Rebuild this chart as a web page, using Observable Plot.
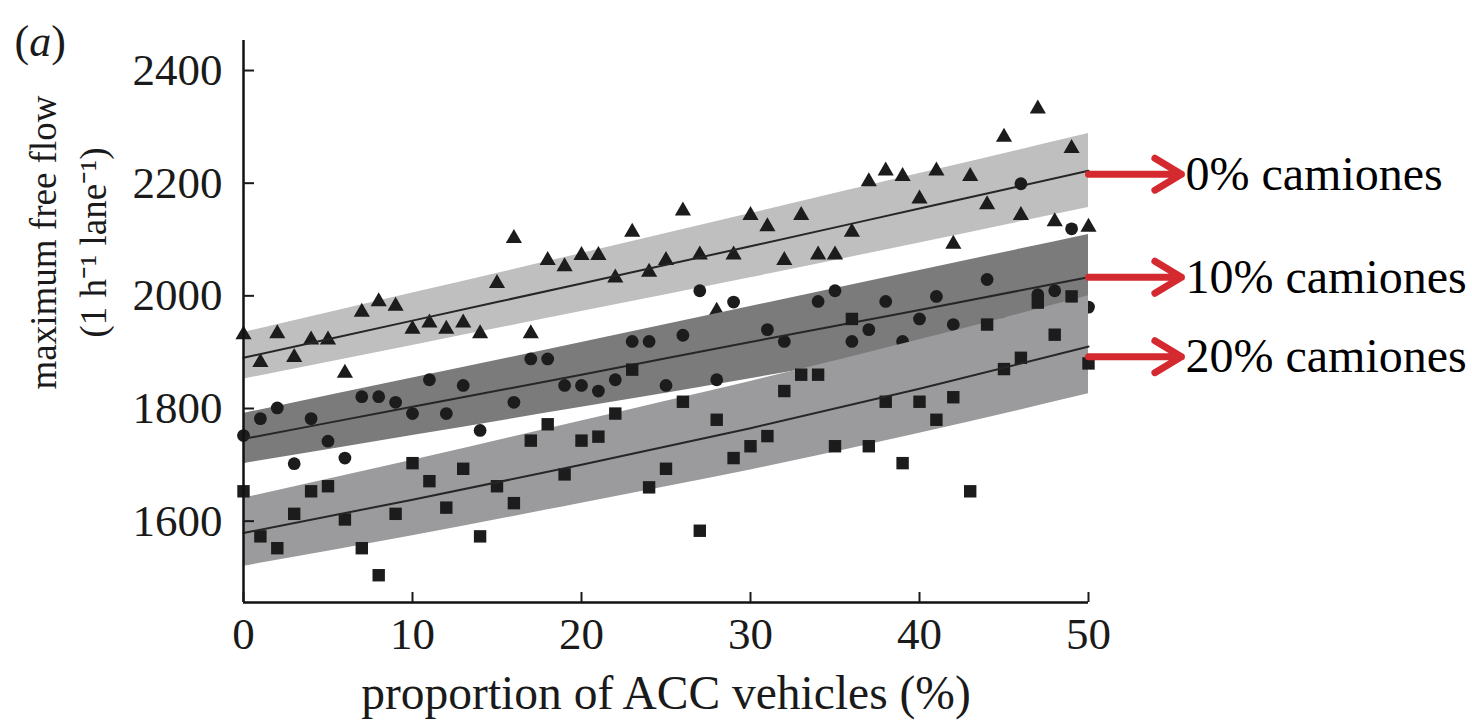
<!DOCTYPE html>
<html>
<head>
<meta charset="utf-8">
<script src="https://cdn.jsdelivr.net/npm/d3@7"></script>
<script src="https://cdn.jsdelivr.net/npm/@observablehq/plot@0.6"></script>
<style>
  html, body { margin: 0; padding: 0; background: #fff; }
  #chart svg { display: block; }
</style>
</head>
<body>
<div id="chart"></div>
<script>
// ---- data ----
// 0% trucks (triangles)
const triX = [0,1,2,3,4,5,6,7,8,9,10,11,12,13,14,15,16,17,18,19,20,21,22,23,24,25,26,27,28,29,30,31,32,33,34,35,36,37,38,39,40,41,42,43,44,45,46,47,48,49,50];
const triY = [1931,1882,1933,1891,1922,1922,1863,1971,1990,1982,1941,1952,1941,1952,1933,2022,2102,1933,2063,2052,2072,2072,2032,2113,2042,2063,2151,2073,1973,2073,2143,2123,2063,2143,2073,2073,2113,2203,2222,2212,2172,2222,2092,2212,2162,2282,2143,2332,2132,2262,2122];
// 10% trucks (circles)
const cirX = [0,1,2,3,4,5,6,7,8,9,10,11,12,13,14,16,17,18,19,20,21,22,23,24,25,26,27,28,29,31,32,34,35,36,37,38,39,40,41,42,44,45,46,47,48,49,50];
const cirY = [1752,1782,1801,1702,1782,1742,1712,1821,1821,1811,1791,1851,1791,1841,1761,1811,1888,1888,1841,1841,1831,1851,1919,1919,1841,1930,2009,1851,1989,1940,1919,1990,2009,1919,1940,1990,1919,1959,1999,1949,2029,1950,2199,2002,2009,2119,1980];
// 20% trucks (squares)
const sqX = [0,1,2,3,4,5,6,7,8,9,10,11,12,13,14,15,16,17,18,19,20,21,22,23,24,25,26,27,28,29,30,31,32,33,34,35,36,37,38,39,40,41,42,43,44,45,46,47,48,49,50];
const sqY = [1653,1573,1552,1613,1653,1662,1603,1552,1504,1613,1703,1671,1624,1693,1573,1662,1632,1743,1772,1683,1743,1750,1791,1869,1660,1693,1812,1583,1780,1712,1733,1751,1831,1860,1860,1733,1959,1733,1812,1703,1812,1780,1820,1653,1949,1870,1890,1988,1931,1999,1880];

// fitted lines and bands
const fitX  = [0, 10, 20, 30, 40, 50];
const fit0  = [1890, 1956, 2022, 2088, 2155, 2222];
const lo0   = [1852, 1912, 1972, 2032, 2094, 2157];
const hi0   = [1935, 2005, 2075, 2146, 2217, 2288];
const fit10 = [1746, 1803, 1860, 1918, 1975, 2033];
const lo10  = [1702, 1752, 1802, 1853, 1905, 1958];
const hi10  = [1791, 1854, 1917, 1981, 2045, 2109];
const fit20 = [1579, 1638, 1700, 1765, 1835, 1910];
const lo20  = [1520, 1574, 1632, 1691, 1756, 1826];
const hi20  = [1641, 1708, 1778, 1848, 1922, 2000];

// axes
const xTicks = [0, 10, 20, 30, 40, 50];
const yTicks = [1600, 1800, 2000, 2200, 2400];
const xDomain = [0, 50];
const yDomain = [1455.6, 2453.3];

// annotations
const annLabels = ["0% camiones", "10% camiones", "20% camiones"];
const annY = [2216, 2033, 1892];
const annX1 = 50, annX2 = 55.5;

// ---- build tables ----
const pts = (xs, ys) => xs.map((x, i) => ({x, y: ys[i]}));
const band = (lo, hi, fit) => fitX.map((x, i) => ({x, lo: lo[i], hi: hi[i], fit: fit[i]}));
const b0 = band(lo0, hi0, fit0), b10 = band(lo10, hi10, fit10), b20 = band(lo20, hi20, fit20);
const ann = annLabels.map((label, i) => ({label, y: annY[i]}));

const ink = "#1c1c1c";
const serif = "'Liberation Serif', 'Times New Roman', serif";

const chart = Plot.plot({
  width: 1472,
  height: 722,
  marginLeft: 243,
  marginRight: 384,
  marginTop: 40,
  marginBottom: 120,
  style: {fontFamily: serif, background: "#fff", color: "#1a1a1a", overflow: "visible"},
  x: {domain: xDomain},
  y: {domain: yDomain},
  marks: [
    // 0% trucks
    Plot.areaY(b0, {x: "x", y1: "lo", y2: "hi", fill: "#bfbfbf", curve: "monotone-x"}),
    Plot.dot(pts(triX, triY), {x: "x", y: "y", symbol: "triangle", r: 6, fill: ink, stroke: "none"}),
    Plot.lineY(b0, {x: "x", y: "fit", stroke: "#262626", strokeWidth: 2, curve: "monotone-x"}),
    // 10% trucks
    Plot.areaY(b10, {x: "x", y1: "lo", y2: "hi", fill: "#7b7b7b", curve: "monotone-x"}),
    Plot.dot(pts(cirX, cirY), {x: "x", y: "y", symbol: "circle", r: 6.4, fill: ink, stroke: "none"}),
    Plot.lineY(b10, {x: "x", y: "fit", stroke: "#262626", strokeWidth: 2, curve: "monotone-x"}),
    // 20% trucks
    Plot.areaY(b20, {x: "x", y1: "lo", y2: "hi", fill: "#9b9b9d", curve: "monotone-x"}),
    Plot.dot(pts(sqX, sqY), {x: "x", y: "y", symbol: "square", r: 7, fill: ink, stroke: "none"}),
    Plot.lineY(b20, {x: "x", y: "fit", stroke: "#262626", strokeWidth: 2, curve: "monotone-x"}),
    // axes
    Plot.ruleX([xDomain[0]], {stroke: "#111", strokeWidth: 2.5}),
    Plot.ruleY([yDomain[0]], {stroke: "#111", strokeWidth: 2.5}),
    Plot.axisX(xTicks, {tickSize: -10, tickPadding: 25, fontSize: 45, strokeWidth: 2, tickFormat: d => String(d), label: null, fill: "#1a1a1a"}),
    Plot.axisY(yTicks, {tickSize: -11, tickPadding: 32, fontSize: 45, strokeWidth: 2, tickFormat: d => String(d), label: null, fill: "#1a1a1a"}),
    // axis titles
    Plot.text(["proportion of ACC vehicles (%)"], {frameAnchor: "bottom", dy: 91, fontSize: 47.5, lineAnchor: "middle", fill: "#1a1a1a"}),
    Plot.text(["maximum free flow"], {frameAnchor: "top-left", dx: -199, dy: 202, rotate: -90, fontSize: 37, lineAnchor: "middle", textAnchor: "middle", fill: "#1a1a1a"}),
    Plot.text(["(1 h\u207B\u00B9 lane\u207B\u00B9)"], {frameAnchor: "top-left", dx: -149, dy: 202, rotate: -90, fontSize: 37, lineAnchor: "middle", textAnchor: "middle", fill: "#1a1a1a"}),
    // panel label (a)
    Plot.text(["(a)"], {frameAnchor: "top-left", dx: -229, dy: 1, fontSize: 44, textAnchor: "start", lineAnchor: "middle", fill: "#1a1a1a"}),
    // red arrows and labels
    Plot.arrow(ann, {x1: annX1, x2: annX2, y1: "y", y2: "y", stroke: "#d42a2f", strokeWidth: 7, headLength: 8, headAngle: 62}),
    Plot.text(ann, {x: annX2, y: "y", text: "label", textAnchor: "start", dx: 4, fontSize: 48, lineAnchor: "middle", fill: "#000"})
  ]
});

// italic "a" inside the panel label
d3.select(chart).selectAll("text").filter(function () { return this.textContent === "(a)"; })
  .each(function () {
    const t = d3.select(this);
    t.text(null);
    t.append("tspan").text("(");
    t.append("tspan").attr("font-style", "italic").text("a");
    t.append("tspan").text(")");
  });

document.getElementById("chart").appendChild(chart);
</script>
</body>
</html>
